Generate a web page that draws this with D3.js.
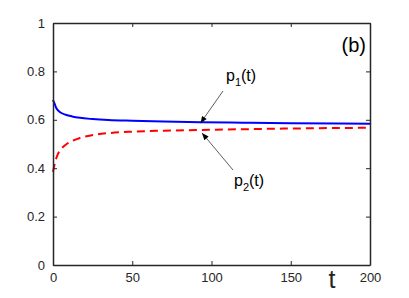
<!DOCTYPE html>
<html><head><meta charset="utf-8">
<script src="https://cdn.jsdelivr.net/npm/d3@7"></script>
<style>body{margin:0;background:#fff}svg{display:block}</style>
</head><body>
<script>
const tValues = [0,1,2,3,5,8,12,17,25,35,50,70,93,120,150,200];
const p1Values = [0.682,0.667,0.650,0.640,0.629,0.621,0.614,0.608,0.603,0.599,0.596,0.593,0.590,0.588,0.586,0.584];
const p2Values = [0.385,0.415,0.440,0.457,0.478,0.497,0.512,0.525,0.537,0.545,0.551,0.555,0.558,0.561,0.564,0.567];
const xTicks = [0,50,100,150,200];
const yTicks = [0,0.2,0.4,0.6,0.8,1];

const W=409,H=298;
const svg=d3.select("body").append("svg").attr("width",W).attr("height",H);
const x=d3.scaleLinear().domain([0,200]).range([53,370]);
const y=d3.scaleLinear().domain([0,1]).range([265,23]);
const axCol="#262626";
const font="Liberation Sans, Arial, sans-serif";

// curves
const line=(vals)=>d3.line().x((d,i)=>x(tValues[i])).y(d=>y(d)).curve(d3.curveMonotoneX)(vals);
svg.append("path").attr("d",line(p1Values)).attr("fill","none").attr("stroke","#0000ff").attr("stroke-width",2);
svg.append("path").attr("d",line(p2Values)).attr("fill","none").attr("stroke","#ff0000").attr("stroke-width",2).attr("stroke-dasharray","8,5");

// axes
function styleAxis(g){g.selectAll("path").attr("stroke",axCol).attr("stroke-width",1.5);
 g.selectAll("line").attr("stroke",axCol);
 g.selectAll("text").attr("fill",axCol).attr("font-family",font).attr("font-size",13);}
svg.append("g").attr("transform","translate(0,265)")
 .call(d3.axisBottom(x).tickValues(xTicks).tickSize(-4).tickPadding(8).tickSizeOuter(0).tickFormat(d3.format("d"))).call(styleAxis);
svg.append("g").attr("transform","translate(53,0)")
 .call(d3.axisLeft(y).tickValues(yTicks).tickSize(-4).tickPadding(8).tickSizeOuter(0).tickFormat(d=>d===0||d===1?d3.format("d")(d):d3.format(".1f")(d))).call(styleAxis);
svg.append("g").attr("transform","translate(0,23)")
 .call(d3.axisTop(x).tickValues(xTicks).tickSize(-4).tickSizeOuter(0).tickFormat("")).call(styleAxis);
svg.append("g").attr("transform","translate(370,0)")
 .call(d3.axisRight(y).tickValues(yTicks).tickSize(-4).tickSizeOuter(0).tickFormat("")).call(styleAxis);

// labels
svg.append("text").attr("x",332).attr("y",288).attr("text-anchor","middle").attr("font-family",font).attr("font-size",25).attr("fill",axCol).text("t");
svg.append("text").attr("x",366).attr("y",52).attr("text-anchor","end").attr("font-family",font).attr("font-size",20).attr("fill","#000").text("(b)");

// annotations
const defs=svg.append("defs");
defs.append("marker").attr("id","ah").attr("viewBox","0 0 10 10").attr("refX",10).attr("refY",5)
 .attr("markerWidth",9).attr("markerHeight",7).attr("markerUnits","userSpaceOnUse").attr("orient","auto")
 .append("path").attr("d","M0,1 L10,5 L0,9 Z").attr("fill","#000");
svg.append("line").attr("x1",223).attr("y1",91).attr("x2",x(93)).attr("y2",y(0.590)+1).attr("stroke","#333").attr("stroke-width",0.8).attr("marker-end","url(#ah)");
svg.append("line").attr("x1",233).attr("y1",170).attr("x2",x(94)).attr("y2",y(0.558)+3).attr("stroke","#333").attr("stroke-width",0.8).attr("marker-end","url(#ah)");
function lab(xp,yp,sub){const t=svg.append("text").attr("x",xp).attr("y",yp).attr("font-family",font).attr("font-size",16).attr("fill","#000");
 t.append("tspan").text("p");t.append("tspan").attr("dy",5).attr("font-size",11).text(sub);t.append("tspan").attr("dy",-5).text("(t)");}
lab(226,81,"1");
lab(234,186,"2");
</script>
</body></html>
